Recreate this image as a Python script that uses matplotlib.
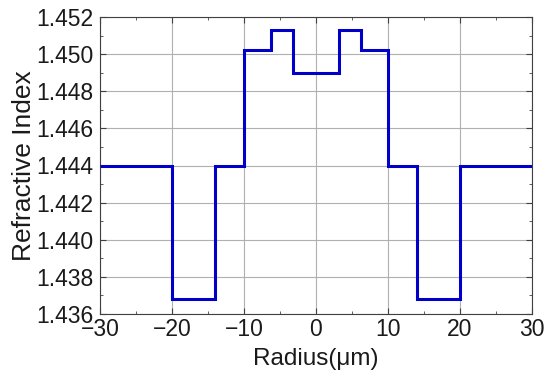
import matplotlib
matplotlib.use("Agg")
import matplotlib.pyplot as plt
from matplotlib.ticker import MultipleLocator, FormatStrFormatter

# step index profile
edges = [-30, -20, -14, -10, -6.2, -3.2, 3.2, 6.2, 10, 14, 20, 30]
levels = [1.444, 1.4368, 1.444, 1.4502, 1.4513, 1.4490, 1.4513, 1.4502, 1.444, 1.4368, 1.444]

plt.rcParams["font.family"] = ["Liberation Sans", "DejaVu Sans"]

fig = plt.figure(figsize=(5.5, 3.77), dpi=100)
ax = fig.add_axes([100 / 550, 1 - 314 / 377, 432 / 550, 297 / 377])

ax.stairs(levels, edges, color="#0000c8", linewidth=2.2, baseline=None, zorder=3)

ax.set_xlim(-30, 30)
ax.set_ylim(1.436, 1.452)
ax.xaxis.set_major_locator(MultipleLocator(10))
ax.xaxis.set_minor_locator(MultipleLocator(5))
ax.yaxis.set_major_locator(MultipleLocator(0.002))
ax.yaxis.set_minor_locator(MultipleLocator(0.001))
ax.yaxis.set_major_formatter(FormatStrFormatter("%.3f"))
ax.set_axisbelow(True)
ax.grid(True, which="major", color="#b0b0b0", linewidth=0.8)
ax.tick_params(which="both", direction="in", top=True, right=True, labelsize=16.5,
               color="#404040", labelcolor="#1a1a1a")
ax.tick_params(which="major", length=4)
ax.tick_params(which="minor", length=2.5)
ax.tick_params(axis="y", pad=5)
ax.tick_params(axis="x", pad=3)
for s in ax.spines.values():
    s.set_color("#404040")
    s.set_linewidth(0.8)

ax.set_xlabel("Radius(μm)", fontsize=17.5, labelpad=5, color="#1a1a1a")
ax.set_ylabel("Refractive Index", fontsize=19, labelpad=0, color="#1a1a1a")

fig.savefig("out.png", dpi=100)
